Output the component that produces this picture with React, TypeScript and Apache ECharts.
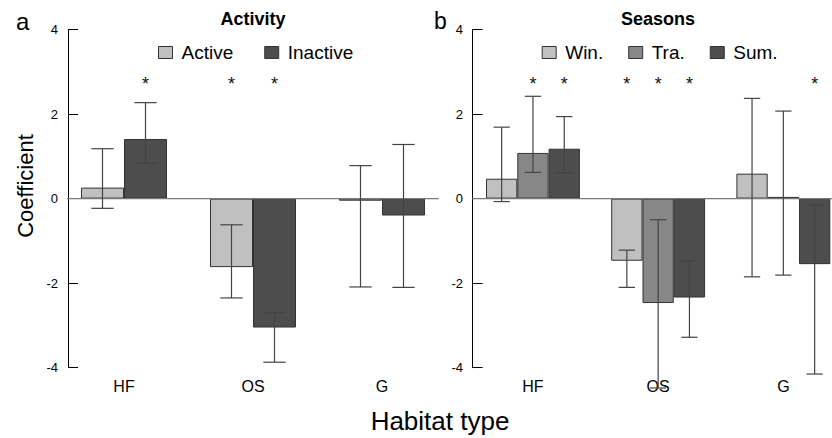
import React, { useEffect, useRef } from "react";
import * as echarts from "echarts";

const habitats = ["HF", "OS", "G"];
const yTicks = { min: -4, max: 4, interval: 2 };

// Panel a: Activity
const activeCoef = [0.26, -1.62, -0.05];
const activeLow = [-0.23, -2.35, -2.09];
const activeHigh = [1.18, -0.62, 0.78];
const activeSig = [0, 1, 0];
const inactiveCoef = [1.41, -3.05, -0.4];
const inactiveLow = [0.84, -3.87, -2.1];
const inactiveHigh = [2.27, -2.7, 1.28];
const inactiveSig = [1, 1, 0];

// Panel b: Seasons
const winCoef = [0.47, -1.47, 0.59];
const winLow = [-0.07, -2.1, -1.85];
const winHigh = [1.69, -1.22, 2.37];
const winSig = [0, 1, 0];
const traCoef = [1.08, -2.47, 0.04];
const traLow = [0.62, -4.48, -1.81];
const traHigh = [2.42, -0.5, 2.07];
const traSig = [1, 1, 0];
const sumCoef = [1.18, -2.34, -1.55];
const sumLow = [0.61, -3.28, -4.15];
const sumHigh = [1.94, -1.47, -0.16];
const sumSig = [1, 1, 1];

const starLevel = 2.72;

const FONT = "Liberation Sans, Arial, Helvetica, sans-serif";
const LIGHT = "#c0c0c0";
const MID = "#878787";
const DARK = "#4d4d4d";
const BORDER = "#333333";
const ERR = "#444444";

function errSeries(
  gridIdx: number,
  barIdx: number,
  nBars: number,
  gapFrac: number,
  low: number[],
  high: number[],
  sig: number[]
) {
  return {
    type: "custom",
    xAxisIndex: gridIdx,
    yAxisIndex: gridIdx,
    z: 5,
    clip: false,
    silent: true,
    encode: { x: 0, y: [1, 2] },
    data: habitats.map((_, k) => [k, low[k], high[k], sig[k]]),
    renderItem: (params: any, api: any) => {
      const k = api.value(0);
      const lo = api.value(1);
      const hi = api.value(2);
      const s = api.value(3);
      const band = api.size([1, 0])[0];
      const bw = (band * (1 - gapFrac)) / nBars;
      const cx = api.coord([k, 0])[0] + (barIdx - (nBars - 1) / 2) * bw;
      const yLo = api.coord([k, lo])[1];
      const yHi = api.coord([k, hi])[1];
      const cap = bw * 0.26;
      const ls = { stroke: ERR, lineWidth: 1.2 };
      const children: any[] = [
        { type: "line", shape: { x1: cx, y1: yLo, x2: cx, y2: yHi }, style: ls },
        { type: "line", shape: { x1: cx - cap, y1: yLo, x2: cx + cap, y2: yLo }, style: ls },
        { type: "line", shape: { x1: cx - cap, y1: yHi, x2: cx + cap, y2: yHi }, style: ls },
      ];
      if (s) {
        children.push({
          type: "text",
          x: cx,
          y: api.coord([k, starLevel])[1],
          style: {
            text: "*",
            fill: "#111",
            font: `18px ${FONT}`,
            align: "center",
            verticalAlign: "middle",
          },
        });
      }
      return { type: "group", children };
    },
  };
}

function barSeries(name: string, gridIdx: number, data: number[], color: string, gap: string) {
  return {
    name,
    type: "bar",
    xAxisIndex: gridIdx,
    yAxisIndex: gridIdx,
    data,
    barGap: "0%",
    barCategoryGap: gap,
    itemStyle: { color, borderColor: BORDER, borderWidth: 1 },
    z: 2,
  };
}

function zeroLine(axisIdx: number, yIdx: number, extent: number[]) {
  return {
    type: "line",
    xAxisIndex: axisIdx,
    yAxisIndex: yIdx,
    data: [
      [extent[0], 0],
      [extent[1], 0],
    ],
    symbol: "none",
    silent: true,
    z: 4,
    lineStyle: { color: "#7a7a7a", width: 1.4 },
  };
}

export default function App() {
  const ref = useRef<HTMLDivElement>(null);
  useEffect(() => {
    if (!ref.current) return;
    const chart = echarts.init(ref.current, undefined, { renderer: "svg" });
    // R barplot layout: left panel groups of 2 bars + 1 space (9 units), right panel 3 bars + 1 space (12 units)
    const leftExtent = [1 - 0.04 * 8, 9 + 0.04 * 8];
    const rightExtent = [1 - 0.04 * 11, 12 + 0.04 * 11];
    const yAxisBase = (gridIndex: number, offset: number, margin: number) => ({
      type: "value",
      gridIndex,
      min: yTicks.min,
      max: yTicks.max,
      interval: yTicks.interval,
      offset,
      axisLine: { show: true, onZero: false, lineStyle: { color: "#000", width: 1 } },
      axisTick: { show: true, inside: true, length: 10, lineStyle: { color: "#000", width: 1 } },
      axisLabel: { color: "#000", fontSize: 13, fontFamily: FONT, margin },
      splitLine: { show: false },
    });
    const catAxis = (gridIndex: number) => ({
      type: "category",
      gridIndex,
      data: habitats,
      axisLine: { show: false, onZero: false },
      axisTick: { show: false },
      axisLabel: { color: "#000", fontSize: 16, fontFamily: FONT, margin: 11 },
      splitLine: { show: false },
    });
    const option: any = {
      animation: false,
      backgroundColor: "#fff",
      grid: [
        { left: 59.5, top: 29.5, width: 387, height: 338.2, containLabel: false, outerBoundsMode: "none" },
        { left: 470.35, top: 29.5, width: 375.6, height: 338.2, containLabel: false, outerBoundsMode: "none" },
      ],
      xAxis: [
        catAxis(0),
        catAxis(1),
        { type: "value", gridIndex: 0, min: 0.5, max: 9.5, show: false },
        { type: "value", gridIndex: 1, min: 0.5, max: 12.5, show: false },
      ],
      yAxis: [yAxisBase(0, -8.5, 10), yAxisBase(1, -2.2, 9.5)],
      legend: [
        {
          data: ["Active", "Inactive"],
          left: 158,
          top: 43,
          padding: 0,
          itemWidth: 14,
          itemHeight: 12,
          itemGap: 31,
          icon: "rect",
          itemStyle: { borderColor: BORDER, borderWidth: 1 },
          textStyle: { fontSize: 19, fontFamily: FONT, color: "#000", padding: [0, 0, 0, 4] },
          selectedMode: false,
        },
        {
          data: ["Win.", "Tra.", "Sum."],
          left: 541.7,
          top: 43,
          padding: 0,
          itemWidth: 14,
          itemHeight: 12,
          itemGap: 25,
          icon: "rect",
          itemStyle: { borderColor: BORDER, borderWidth: 1 },
          textStyle: { fontSize: 19, fontFamily: FONT, color: "#000", padding: [0, 0, 0, 4] },
          selectedMode: false,
        },
      ],
      graphic: [
        { type: "text", x: 253, y: 19, style: { text: "Activity", font: `bold 18px ${FONT}`, fill: "#000", align: "center", verticalAlign: "middle" } },
        { type: "text", x: 658, y: 19, style: { text: "Seasons", font: `bold 18px ${FONT}`, fill: "#000", align: "center", verticalAlign: "middle" } },
        { type: "text", x: 16, y: 21, style: { text: "a", font: `24px ${FONT}`, fill: "#000", align: "left", verticalAlign: "middle" } },
        { type: "text", x: 434, y: 21, style: { text: "b", font: `23px ${FONT}`, fill: "#000", align: "left", verticalAlign: "middle" } },
        { type: "text", x: 440, y: 421, style: { text: "Habitat type", font: `26px ${FONT}`, fill: "#000", align: "center", verticalAlign: "middle" } },
        { type: "text", x: 25, y: 186, rotation: Math.PI / 2, style: { text: "Coefficient", font: `22px ${FONT}`, fill: "#000", align: "center", verticalAlign: "middle" } },
      ],
      series: [
        barSeries("Active", 0, activeCoef, LIGHT, "33.333%"),
        barSeries("Inactive", 0, inactiveCoef, DARK, "33.333%"),
        barSeries("Win.", 1, winCoef, LIGHT, "25%"),
        barSeries("Tra.", 1, traCoef, MID, "25%"),
        barSeries("Sum.", 1, sumCoef, DARK, "25%"),
        zeroLine(2, 0, leftExtent),
        zeroLine(3, 1, rightExtent),
        errSeries(0, 0, 2, 1 / 3, activeLow, activeHigh, activeSig),
        errSeries(0, 1, 2, 1 / 3, inactiveLow, inactiveHigh, inactiveSig),
        errSeries(1, 0, 3, 0.25, winLow, winHigh, winSig),
        errSeries(1, 1, 3, 0.25, traLow, traHigh, traSig),
        errSeries(1, 2, 3, 0.25, sumLow, sumHigh, sumSig),
      ],
    };
    chart.setOption(option);
    return () => chart.dispose();
  }, []);
  return (
    <div
      ref={ref}
      style={{ position: "fixed", left: 0, top: 0, width: 832, height: 438, background: "#fff" }}
    />
  );
}
